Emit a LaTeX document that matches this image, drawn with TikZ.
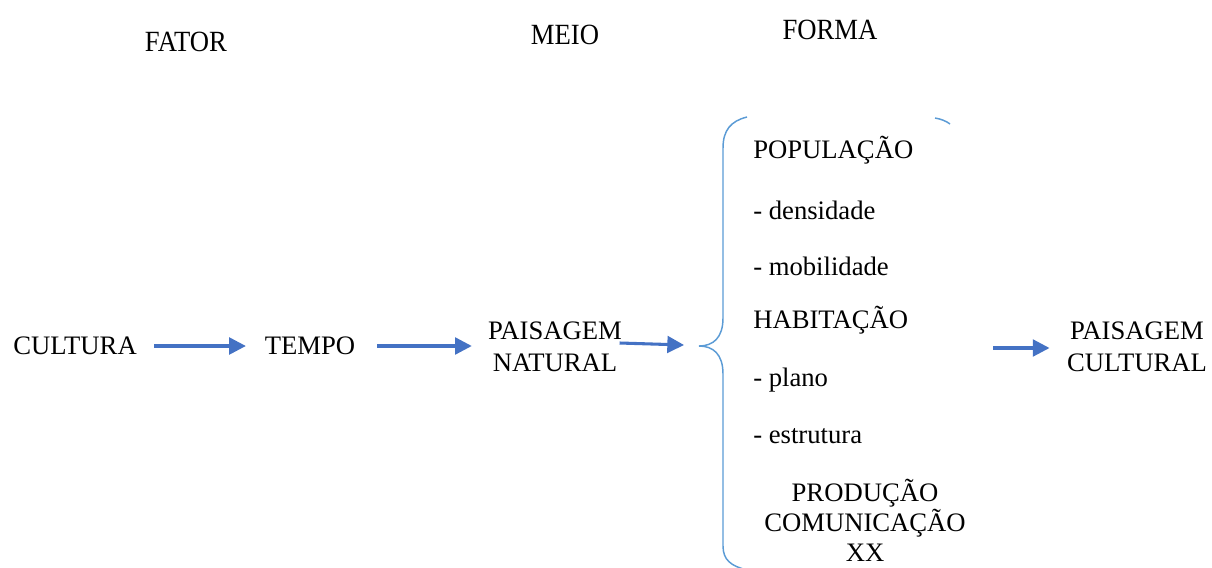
\documentclass[tikz,border=0pt]{standalone}
\usepackage{fontspec}
\setmainfont{Liberation Serif}
\usetikzlibrary{arrows.meta}

\begin{document}
\begin{tikzpicture}[x=0.75pt,y=-0.75pt,
      flow/.style={-{Triangle[length=12.5pt,width=12.5pt]},color={rgb,255:red,68;green,114;blue,196},line width=2.3pt},
      word/.style={font=\rmfamily\fontsize{20}{24}\selectfont,inner sep=0pt,align=center},
      item/.style={word,anchor=west},
      head/.style={font=\rmfamily\fontsize{20}{24}\selectfont,inner sep=0pt}]

      \clip (0,0) rectangle (1212,567);

      % column heads
      \node[head] (fator) at (186,42) {\scalebox{1}[1.1]{FATOR}};
      \node[head] (meio) at (565,35) {\scalebox{1}[1.1]{MEIO}};
      \node[head] (forma) at (830,30) {\scalebox{1}[1.1]{FORMA}};

      % main row
      \node[word] (cultura) at (75,346) {CULTURA};
      \node[word] (tempo) at (310,346) {TEMPO};
      \node[word] (natural) at (555,347) {PAISAGEM\\NATURAL};
      \node[word] (cultural) at (1137,347) {PAISAGEM\\CULTURAL};

      \coordinate (tip) at (684,345);
      \coordinate (out) at (993,348);

      \draw[flow] (cultura.east) ++(17,0) -- ([xshift=-14]tempo.west);
      \draw[flow] (tempo.east) ++(22,0) -- ([xshift=-12]natural.west |- tempo.west);
      \draw[flow] ([xshift=-2,yshift=3]natural.east) -- (tip);
      \draw[flow] (out) -- ([xshift=-13]cultural.west |- out);

      % brace
      \draw[color={rgb,255:red,91;green,155;blue,213},line width=1.1pt]
        (747,117) .. controls (731,121) and (723,130) .. (723,148) -- (723,318)
        .. controls (723,338) and (713,346) .. (699,346)
        .. controls (713,346) and (723,354) .. (723,374) -- (723,546)
        .. controls (723,560) and (731,566) .. (747,570);
      \draw[color={rgb,255:red,91;green,155;blue,213},line width=1.1pt]
        (935,118) .. controls (941,119) and (946,121) .. (950,124);

      % forms
      \node[item] (pop) at (753,150) {POPULAÇÃO};
      \node[item] (dens) at (753,210) {- densidade};
      \node[item] (mob) at (753,266) {- mobilidade};
      \node[item] (hab) at (753,320) {HABITAÇÃO};
      \node[item] (plano) at (753,380) {- plano};
      \node[item] (estr) at (753,436) {- estrutura};
      \node[word,font=\rmfamily\fontsize{20}{22.5}\selectfont,anchor=north] (prod) at (865,479) {PRODUÇÃO\\COMUNICAÇÃO\\XX};
\end{tikzpicture}
\end{document}
